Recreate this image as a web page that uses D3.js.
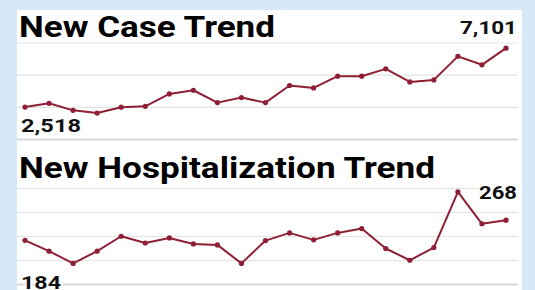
<!DOCTYPE html>
<html>
<head>
<meta charset="utf-8">
<script src="https://cdn.jsdelivr.net/npm/d3@7"></script>
<style>
  html, body { margin: 0; padding: 0; background: #d7e9f8; }
  svg { display: block; }
  .title { font-family: Roboto, sans-serif; font-weight: 700; fill: #000; }
  .vlabel { font-family: Roboto, sans-serif; font-weight: 700; fill: #111; }
</style>
</head>
<body>
<svg id="chart" width="535" height="290"></svg>
<script>
// daily values, oldest first
var caseValues = [2518, 2812, 2266, 2055, 2510, 2580, 3539, 3828, 2867, 3258, 2867,
                  4195, 4008, 4922, 4922, 5492, 4477, 4633, 6461, 5805, 7101],
    caseTicks = [0, 2500, 5000, 7500],
    hospValues = [184, 139, 88, 139, 201, 173, 194, 169, 165, 88, 183,
                  215, 186, 215, 233, 150, 101, 154, 386, 253, 268],
    hospTicks = [0, 100, 200, 300, 400],
    titles = ["New Case Trend", "New Hospitalization Trend"];

var W = 535, H = 290,
    lineColor = "#8e1f35",
    svg = d3.select("#chart");

// white card
svg.append("rect")
    .attr("x", 17).attr("y", 10)
    .attr("width", 505).attr("height", H)
    .attr("fill", "#fff");

// the source glyphs are wider than Roboto's, so text is stretched to these widths
var panels = [
    {title: titles[0], vals: caseValues, ticks: caseTicks, top: 43, bottom: 139.5, titleY: 36.5, titleW: 256,
     firstY: 131.5, firstW: 60, lastY: 33.5, lastW: 57},
    {title: titles[1], vals: hospValues, ticks: hospTicks, top: 188.5, bottom: 284.5, titleY: 178, titleW: 416,
     firstY: 288.5, firstW: 40, lastY: 199, lastW: 38}
];

var fmt = d3.format(",");

panels.forEach(function (p) {
    var g = svg.append("g");
    var x = d3.scaleLinear().domain([0, p.vals.length - 1]).range([25, 506]);
    var y = d3.scaleLinear().domain([0, d3.max(p.ticks)]).range([p.bottom, p.top]);

    g.selectAll(".grid")
        .data(p.ticks)
        .enter().append("line")
        .attr("x1", 17).attr("x2", 518)
        .attr("y1", d => y(d)).attr("y2", d => y(d))
        .attr("stroke", d => d == 0 ? "#d9d9d9" : "#e4e4e4")
        .attr("stroke-width", d => d == 0 ? 2 : 1.2);

    g.append("text").attr("class", "title")
        .attr("x", 19).attr("y", p.titleY)
        .attr("textLength", p.titleW).attr("lengthAdjust", "spacingAndGlyphs")
        .style("font-size", "29px")
        .text(p.title);

    var line = d3.line().x((d, i) => x(i)).y(d => y(d));
    g.append("path")
        .datum(p.vals)
        .attr("d", line)
        .attr("fill", "none")
        .attr("stroke", lineColor)
        .attr("stroke-width", 2)
        .attr("stroke-linejoin", "round");

    g.selectAll(".dot")
        .data(p.vals)
        .enter().append("circle")
        .attr("cx", (d, i) => x(i))
        .attr("cy", d => y(d))
        .attr("r", 2.6)
        .attr("fill", lineColor);

    // first and last value labels
    g.append("text").attr("class", "vlabel")
        .attr("x", 21).attr("y", p.firstY)
        .attr("textLength", p.firstW).attr("lengthAdjust", "spacingAndGlyphs")
        .style("font-size", "18.5px")
        .attr("stroke", "#fff").attr("stroke-width", 3).attr("paint-order", "stroke")
        .text(fmt(p.vals[0]));
    g.append("text").attr("class", "vlabel")
        .attr("x", 517 - p.lastW).attr("y", p.lastY)
        .attr("textLength", p.lastW).attr("lengthAdjust", "spacingAndGlyphs")
        .style("font-size", "18.5px")
        .attr("stroke", "#fff").attr("stroke-width", 3).attr("paint-order", "stroke")
        .text(fmt(p.vals[p.vals.length - 1]));
});
</script>
</body>
</html>
